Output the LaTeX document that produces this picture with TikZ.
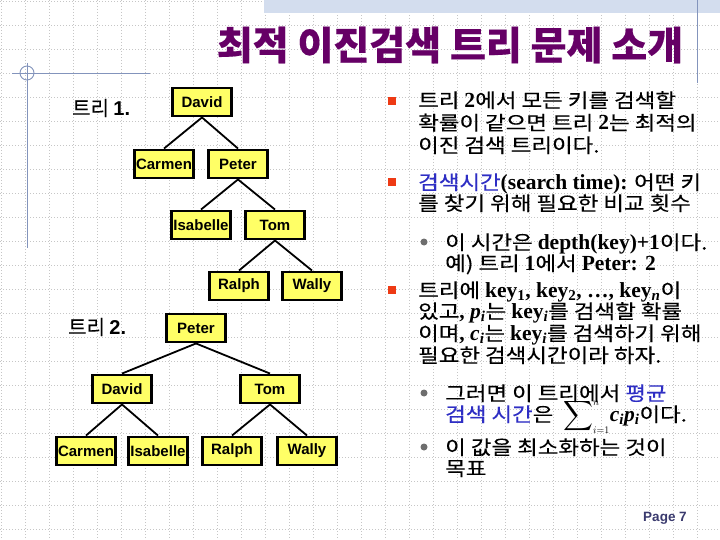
\RequirePackage{fix-cm}
\documentclass[tikz,border=0pt]{standalone}
\usepackage{amsmath}
\usepackage{fontspec}
\setmainfont{Noto Sans CJK KR}[FakeBold=0.3]
\newfontfamily\kofont{Noto Sans CJK KR}[FakeStretch=1.15,FakeBold=0.3]
\newfontfamily\arialfont{Liberation Sans}
\newfontfamily\timesfont{Liberation Serif}
\usetikzlibrary{positioning}
\definecolor{titlepurple}{HTML}{660066}
\definecolor{keyyellow}{HTML}{FFFF66}
\definecolor{keyblue}{HTML}{2E2EC4}
\definecolor{bulletred}{HTML}{EE3A14}
\definecolor{bulletgray}{HTML}{6E6E6E}
\definecolor{bandblue}{HTML}{D3DDEE}
\definecolor{frameblue}{HTML}{8394BC}
\definecolor{pagenavy}{HTML}{3A3A6E}
\newcommand{\bodyfont}{\kofont\fontsize{19.5}{22}\selectfont}
\newcommand{\lat}[1]{{\timesfont\bfseries\fontsize{21.5}{22}\selectfont #1}}
\newcommand{\hl}[1]{\textcolor{keyblue}{#1}}
\tikzset{
    gridline/.style={draw=gray!45,line width=0.5pt,dash pattern=on 1pt off 2pt},
    frameline/.style={draw=frameblue,line width=0.9pt},
    keybox/.style={draw=black,fill=keyyellow,line width=2.4pt,
      minimum width=59pt,minimum height=28.5pt,inner sep=1pt,
      font=\arialfont\bfseries\fontsize{15}{15}\selectfont},
    treeedge/.style={draw=black,line width=1.8pt},
    treelabel/.style={anchor=west,inner sep=0pt,font=\fontsize{20}{20}\selectfont},
    bodyline/.style={anchor=base west,inner sep=0pt,font=\bodyfont},
    sqbullet/.style={fill=bulletred,minimum size=8pt,inner sep=0pt},
    dotbullet/.style={circle,fill=bulletgray,minimum size=7pt,inner sep=0pt}
}

\begin{document}
\begin{tikzpicture}[x=1pt,y=1pt]
  \useasboundingbox (0,0) rectangle (720,-540);
  \fill[white] (0,0) rectangle (720,-540);
  % dotted page grid
  \foreach \g in {1,25,...,720}{\draw[gridline] (\g,0) -- (\g,-540);}
  \foreach \g in {1,25,...,540}{\draw[gridline] (0,-\g) -- (720,-\g);}
  % slide frame
  \fill[bandblue] (264,0) rectangle (720,-13);
  \draw[frameline] (697,0) -- (697,-83);
  \draw[frameline] (12,-73) -- (150,-73);
  \draw[frameline] (27,-63) -- (27,-248);
  \draw[frameline] (27,-73) circle (7);
  \node[font=\bfseries\fontsize{39}{39}\selectfont,text=titlepurple] (title) at (450,-45) {최적 이진검색 트리 문제 소개};

  % tree 1
  \node[treelabel] (lab1) at (72,-108) {트리 {\arialfont\bfseries 1.}};
  \foreach \n/\x/\y in {David/202/102,Carmen/164/164,Peter/238/164,Isabelle/201/225,Tom/275/225,Ralph/239/286,Wally/312/286}
    {\node[keybox] (a\n) at (\x,-\y) {\n};}
  \foreach \p/\c in {David/Carmen,David/Peter,Peter/Isabelle,Peter/Tom,Tom/Ralph,Tom/Wally}
    {\draw[treeedge] (a\p.south) -- (a\c.north);}

  % tree 2
  \node[treelabel] (lab2) at (68,-327) {트리 {\arialfont\bfseries 2.}};
  \foreach \n/\x/\y in {Peter/196/328,David/122/389,Tom/270/389,Carmen/86/451,Isabelle/158/451,Ralph/232/451,Wally/307/451}
    {\node[keybox] (b\n) at (\x,-\y) {\n};}
  \foreach \p/\c in {Peter/David,Peter/Tom,David/Carmen,David/Isabelle,Tom/Ralph,Tom/Wally}
    {\draw[treeedge] (b\p.south) -- (b\c.north);}

  % bullets
  \node[sqbullet] (sq1) at (392,-101) {};
  \node[sqbullet] (sq2) at (392,-182) {};
  \node[sqbullet] (sq3) at (392,-290) {};
  \node[dotbullet] (dt1) at (424,-242) {};
  \node[dotbullet] (dt2) at (424,-393) {};
  \node[dotbullet] (dt3) at (424,-447) {};

  % text, one node per line
  \node[bodyline] (t1) at (418,-107.5) {트리 \lat{2}에서 모든 키를 검색할};
  \node[bodyline] (t2) at (418,-130) {확률이 같으면 트리 \lat{2}는 최적의};
  \node[bodyline] (t3) at (418,-152.5) {이진 검색 트리이다.};
  \node[bodyline] (t4) at (418,-189.5) {\hl{검색시간}\lat{(search time):} 어떤 키};
  \node[bodyline] (t5) at (418,-210.5) {를 찾기 위해 필요한 비교 횟수};
  \node[bodyline] (t6) at (445,-249.5) {이 시간은 \lat{depth(key)+1}이다.};
  \node[bodyline] (t7) at (445,-270.5) {예) 트리 \lat{1}에서 \lat{Peter: 2}};
  \node[bodyline] (t8) at (418,-297.5) {트리에 \lat{key\textsubscript{1}, key\textsubscript{2}, \dots, key\textsubscript{\itshape n}}이};
  \node[bodyline] (t9) at (418,-318.5) {있고\lat{, \textit{p}\textsubscript{\itshape i}}는 \lat{key\textsubscript{\itshape i}}를 검색할 확률};
  \node[bodyline] (t10) at (418,-340.5) {이며\lat{, \textit{c}\textsubscript{\itshape i}}는 \lat{key\textsubscript{\itshape i}}를 검색하기 위해};
  \node[bodyline] (t11) at (418,-362.5) {필요한 검색시간이라 하자.};
  \node[bodyline] (t12) at (445,-400.5) {그러면 이 트리에서 \hl{평균}};
  \node[bodyline] (t13) at (445,-421.5) {\hl{검색 시간}은\enspace{\fontsize{20}{20}\selectfont$\displaystyle\sum\nolimits_{\scriptscriptstyle i=1}^{\scriptscriptstyle n}$}\lat{\textit{c}\textsubscript{\itshape i}\textit{p}\textsubscript{\itshape i}}이다.};
  \node[bodyline] (t14) at (445,-454.5) {이 값을 최소화하는 것이};
  \node[bodyline] (t15) at (445,-475.5) {목표};

  \node[font=\arialfont\bfseries\fontsize{13.5}{14}\selectfont,text=pagenavy] (page) at (665,-518) {Page 7};
\end{tikzpicture}
\end{document}
